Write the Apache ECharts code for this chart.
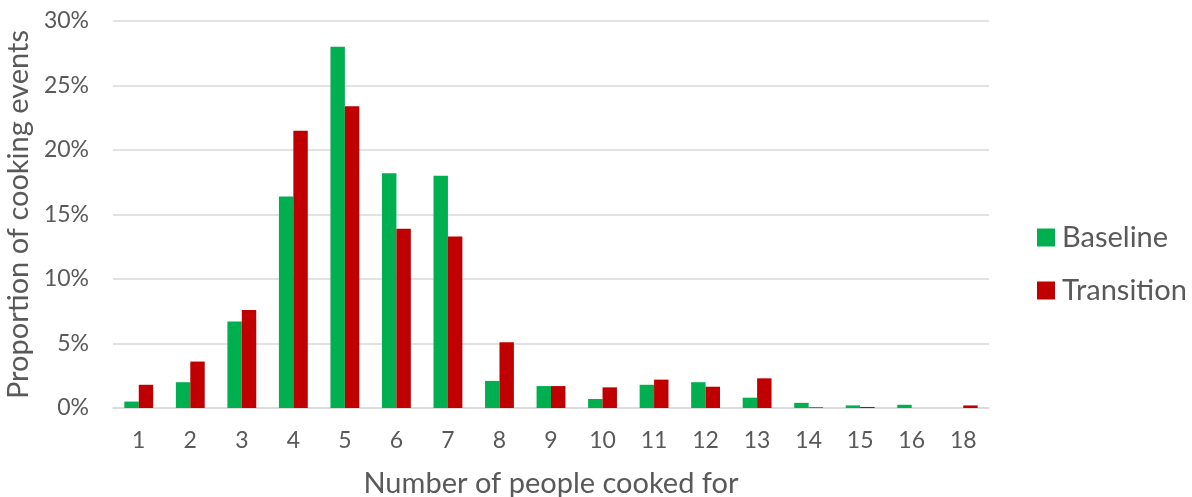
<!DOCTYPE html>
<html>
<head>
<meta charset="utf-8">
<script src="https://cdn.jsdelivr.net/npm/echarts@6/dist/echarts.min.js"></script>
<style>
  html, body { margin: 0; padding: 0; background: #fff; }
  #chart { width: 1192px; height: 497px; }
</style>
</head>
<body>
<div id="chart"></div>
<script>
// Household size cooked for, share of cooking events per phase
const categories = ['1', '2', '3', '4', '5', '6', '7', '8', '9', '10', '11', '12', '13', '14', '15', '16', '18'];
const baseline   = [0.5, 2.0, 6.7, 16.4, 28.0, 18.2, 18.0, 2.1, 1.7, 0.7, 1.8, 2.0, 0.8, 0.4, 0.2, 0.25, 0];
const transition = [1.8, 3.6, 7.6, 21.5, 23.4, 13.9, 13.3, 5.1, 1.7, 1.6, 2.2, 1.65, 2.3, 0.05, 0.08, 0, 0.2];
const yTicks = [0, 5, 10, 15, 20, 25, 30];

const font = 'Lato, "Liberation Sans", sans-serif';
const textGrey = '#595959';

const chart = echarts.init(document.getElementById('chart'), null, { renderer: 'canvas' });
chart.setOption({
  animation: false,
  textStyle: { fontFamily: font },
  grid: { left: 113, right: 203, top: 21, bottom: 89, containLabel: false, outerBoundsMode: 'none' },
  legend: {
    orient: 'vertical',
    left: 1032,
    top: 218,
    itemWidth: 18,
    itemHeight: 18,
    itemGap: 24,
    icon: 'rect',
    textStyle: { fontSize: 29, color: textGrey, fontFamily: font, padding: [0, 0, 0, 2] },
    data: ['Baseline', 'Transition']
  },
  xAxis: {
    type: 'category',
    data: categories,
    name: 'Number of people cooked for',
    nameLocation: 'middle',
    nameGap: 61,
    nameTextStyle: { fontSize: 29, color: textGrey, fontFamily: font },
    axisLine: { lineStyle: { color: '#d9d9d9', width: 1.5 } },
    axisTick: { show: false },
    axisLabel: { fontSize: 23, color: textGrey, margin: 21, fontFamily: font }
  },
  yAxis: {
    type: 'value',
    min: yTicks[0],
    max: yTicks[yTicks.length - 1],
    interval: 5,
    name: 'Proportion of cooking events',
    nameLocation: 'middle',
    nameGap: 69,
    nameTextStyle: { fontSize: 29, color: textGrey, fontFamily: font },
    axisLine: { show: false },
    axisTick: { show: false },
    splitLine: { lineStyle: { color: '#d9d9d9', width: 1.5 } },
    axisLabel: { fontSize: 23, color: textGrey, margin: 24, fontFamily: font, formatter: v => v + '%' }
  },
  series: [
    {
      name: 'Baseline',
      type: 'bar',
      data: baseline,
      barGap: '0%',
      barCategoryGap: '44%',
      itemStyle: { color: '#00B050' }
    },
    {
      name: 'Transition',
      type: 'bar',
      data: transition,
      barGap: '0%',
      barCategoryGap: '44%',
      itemStyle: { color: '#C00000' }
    }
  ]
});
</script>
</body>
</html>
